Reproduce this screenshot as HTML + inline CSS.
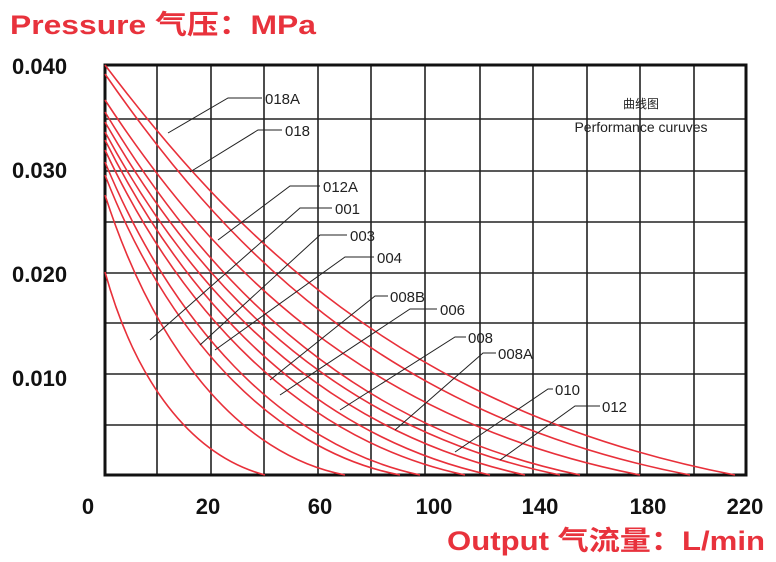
<!DOCTYPE html>
<html><head><meta charset="utf-8"><style>
body{margin:0;background:#fff;width:776px;height:562px;overflow:hidden}
svg{display:block}
</style></head><body>
<svg width="776" height="562" viewBox="0 0 776 562" font-family="Liberation Sans, Noto Sans CJK SC, sans-serif">
<text x="10" y="34" fill="#e8323c" font-size="27" font-weight="bold" textLength="306" lengthAdjust="spacingAndGlyphs">Pressure 气压：MPa</text>
<text x="447" y="550" fill="#e8323c" font-size="27" font-weight="bold" textLength="318" lengthAdjust="spacingAndGlyphs">Output 气流量：L/min</text>
<g stroke="#222" stroke-width="1.6">
<line x1="157" y1="65" x2="157" y2="475"/><line x1="211" y1="65" x2="211" y2="475"/>
<line x1="264" y1="65" x2="264" y2="475"/><line x1="318" y1="65" x2="318" y2="475"/>
<line x1="371" y1="65" x2="371" y2="475"/><line x1="425" y1="65" x2="425" y2="475"/>
<line x1="480" y1="65" x2="480" y2="475"/><line x1="533" y1="65" x2="533" y2="475"/>
<line x1="587" y1="65" x2="587" y2="475"/><line x1="640" y1="65" x2="640" y2="475"/>
<line x1="694" y1="65" x2="694" y2="475"/>
<line x1="105" y1="119" x2="746" y2="119"/><line x1="105" y1="171" x2="746" y2="171"/>
<line x1="105" y1="222" x2="746" y2="222"/><line x1="105" y1="273" x2="746" y2="273"/>
<line x1="105" y1="323" x2="746" y2="323"/><line x1="105" y1="374" x2="746" y2="374"/>
<line x1="105" y1="425" x2="746" y2="425"/>
</g>
<rect x="105" y="65" width="641" height="410" fill="none" stroke="#111" stroke-width="3"/>
<g fill="none" stroke="#e8303a" stroke-width="1.6">
<path d="M105,65 C230,230 400,410 735,475"/>
<path d="M105,74 C220,240 380,415 690,475"/>
<path d="M105,100 C210,260 360,420 640,475"/>
<path d="M105,112 C200,270 340,425 580,475"/>
<path d="M105,122 C195,280 330,428 560,475"/>
<path d="M105,132 C190,290 320,430 525,475"/>
<path d="M105,140 C185,300 310,435 490,475"/>
<path d="M105,150 C180,310 300,440 465,475"/>
<path d="M105,162 C170,320 280,445 420,475"/>
<path d="M105,175 C165,330 270,450 400,475"/>
<path d="M105,195 C155,350 240,455 345,475"/>
<path d="M105,272 C135,380 190,455 265,475"/>
</g>
<g fill="none" stroke="#222" stroke-width="1">
<polyline points="168,133 228,98 262,98"/>
<polyline points="190,172 258,130 282,130"/>
<polyline points="218,240 290,186 320,186"/>
<polyline points="150,340 300,208 332,208"/>
<polyline points="200,345 320,235 347,235"/>
<polyline points="215,350 345,257 374,257"/>
<polyline points="270,380 375,296 388,296"/>
<polyline points="280,395 410,309 437,309"/>
<polyline points="340,410 455,337 466,337"/>
<polyline points="395,430 483,353 496,353"/>
<polyline points="455,452 548,389 553,389"/>
<polyline points="500,460 575,406 600,406"/>
</g>
<g font-size="15" fill="#222">
<text x="265" y="104">018A</text><text x="285" y="136">018</text>
<text x="323" y="192">012A</text><text x="335" y="214">001</text>
<text x="350" y="241">003</text><text x="377" y="263">004</text>
<text x="390" y="302">008B</text><text x="440" y="315">006</text>
<text x="468" y="343">008</text><text x="498" y="359">008A</text>
<text x="555" y="395">010</text><text x="602" y="412">012</text>
</g>
<text x="641" y="108" font-size="12" text-anchor="middle" fill="#222">曲线图</text>
<text x="641" y="132" font-size="14" text-anchor="middle" fill="#222">Performance curuves</text>
<g font-size="22" font-weight="bold" fill="#111">
<text x="12" y="74">0.040</text><text x="12" y="178">0.030</text>
<text x="12" y="282">0.020</text><text x="12" y="386">0.010</text>
</g>
<g font-size="22" font-weight="bold" fill="#111" text-anchor="middle">
<text x="88" y="514">0</text><text x="208" y="514">20</text><text x="320" y="514">60</text>
<text x="434" y="514">100</text><text x="540" y="514">140</text><text x="648" y="514">180</text>
<text x="745" y="514">220</text>
</g>
</svg>
</body></html>
